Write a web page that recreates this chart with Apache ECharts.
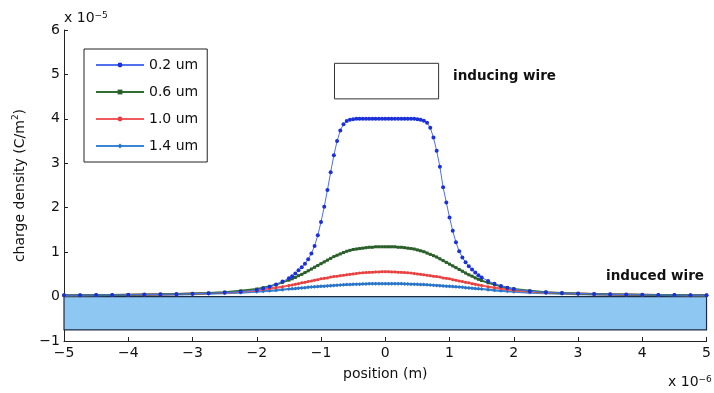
<!DOCTYPE html>
<html>
<head>
<meta charset="utf-8">
<script src="https://cdn.jsdelivr.net/npm/echarts@6/dist/echarts.min.js"></script>
<style>
html,body{margin:0;padding:0;background:#fff;}
#chart{width:714px;height:393px;}
</style>
</head>
<body>
<div id="chart"></div>
<script>
// x positions (units of 1e-6 m)
const positions = [-5,-4.75,-4.5,-4.25,-4,-3.75,-3.5,-3.25,-3,-2.75,-2.5,-2.25,
-2,-1.9,-1.8,-1.7,-1.6,
-1.5,-1.45,-1.4,-1.35,-1.3,-1.25,-1.2,-1.15,-1.1,-1.05,-1,-0.95,-0.9,-0.85,-0.8,-0.75,-0.7,-0.65,-0.6,-0.55,-0.5,-0.45,-0.4,-0.35,-0.3,-0.25,-0.2,-0.15,-0.1,-0.05,
0,0.05,0.1,0.15,0.2,0.25,0.3,0.35,0.4,0.45,0.5,0.55,0.6,0.65,0.7,0.75,0.8,0.85,0.9,0.95,1,1.05,1.1,1.15,1.2,1.25,1.3,1.35,1.4,1.45,1.5,
1.6,1.7,1.8,1.9,2,
2.25,2.5,2.75,3,3.25,3.5,3.75,4,4.25,4.5,4.75,5];

// charge density (units of 1e-5 C/m^2)
const d02 = [0.03,0.03,0.035,0.035,0.04,0.045,0.05,0.055,0.065,0.075,0.09,0.11,
0.15,0.18,0.22,0.27,0.34,
0.41,0.46,0.52,0.59,0.66,0.74,0.84,0.97,1.14,1.38,1.68,2.02,2.40,2.80,3.18,3.50,3.74,3.88,3.95,3.98,3.99,4.0,4.0,4.0,4.0,4.0,4.0,4.0,4.0,4.0,
4.0,4.0,4.0,4.0,4.0,4.0,4.0,4.0,4.0,4.0,3.99,3.98,3.96,3.91,3.80,3.58,3.28,2.92,2.46,2.12,1.78,1.48,1.22,1.02,0.88,0.77,0.68,0.61,0.54,0.48,0.43,
0.35,0.29,0.24,0.20,0.17,
0.12,0.095,0.08,0.07,0.06,0.05,0.045,0.04,0.035,0.035,0.03,0.03];

const d06 = [0.03,0.03,0.035,0.035,0.04,0.045,0.05,0.06,0.07,0.08,0.10,0.13,
0.17,0.20,0.23,0.27,0.32,
0.37,0.40,0.43,0.47,0.50,0.54,0.58,0.62,0.66,0.70,0.74,0.78,0.82,0.86,0.90,0.93,0.96,0.99,1.02,1.04,1.06,1.07,1.08,1.09,1.10,1.11,1.11,1.12,1.12,1.12,
1.12,1.12,1.12,1.12,1.11,1.11,1.10,1.09,1.08,1.07,1.05,1.03,1.01,0.98,0.95,0.92,0.89,0.85,0.81,0.77,0.73,0.69,0.65,0.61,0.57,0.53,0.49,0.46,0.42,0.39,0.36,
0.31,0.27,0.23,0.20,0.17,
0.13,0.10,0.08,0.07,0.06,0.05,0.045,0.04,0.035,0.035,0.03,0.03];

const d10 = [0.03,0.03,0.035,0.035,0.04,0.045,0.05,0.055,0.065,0.075,0.09,0.11,
0.14,0.16,0.18,0.20,0.22,
0.25,0.26,0.28,0.29,0.31,0.32,0.34,0.35,0.37,0.38,0.40,0.41,0.42,0.44,0.45,0.46,0.47,0.48,0.49,0.50,0.51,0.52,0.53,0.535,0.54,0.545,0.55,0.555,0.555,0.56,
0.56,0.56,0.555,0.555,0.55,0.545,0.54,0.535,0.53,0.52,0.51,0.50,0.49,0.48,0.47,0.46,0.45,0.44,0.42,0.41,0.40,0.38,0.37,0.35,0.34,0.32,0.31,0.29,0.28,0.26,0.25,
0.22,0.20,0.18,0.16,0.14,
0.11,0.09,0.075,0.065,0.055,0.05,0.045,0.04,0.035,0.035,0.03,0.03];

const d14 = [0.025,0.03,0.03,0.035,0.035,0.04,0.045,0.05,0.055,0.065,0.075,0.09,
0.11,0.12,0.13,0.14,0.155,
0.17,0.175,0.18,0.19,0.195,0.20,0.21,0.215,0.22,0.225,0.23,0.235,0.24,0.245,0.25,0.255,0.26,0.265,0.27,0.27,0.275,0.28,0.28,0.285,0.285,0.29,0.29,0.29,0.29,0.29,
0.29,0.29,0.29,0.29,0.29,0.29,0.285,0.285,0.28,0.28,0.275,0.27,0.27,0.265,0.26,0.255,0.25,0.245,0.24,0.235,0.23,0.225,0.22,0.215,0.21,0.20,0.195,0.19,0.18,0.175,0.17,
0.155,0.14,0.13,0.12,0.11,
0.09,0.075,0.065,0.055,0.05,0.045,0.04,0.035,0.035,0.03,0.03,0.025];

const seriesNames = ['0.2 um','0.6 um','1.0 um','1.4 um'];
const xTicks = [-5,-4,-3,-2,-1,0,1,2,3,4,5];
const yTicks = [-1,0,1,2,3,4,5,6];

// wires: [xMin, xMax, yMin, yMax] in data units
const inducedWire = [-5, 5, -0.75, 0.0];
const inducingWire = [-0.79, 0.83, 4.45, 5.25];

const FONT = '"DejaVu Sans", Verdana, sans-serif';
const pair = (ys) => positions.map((x, i) => [x, ys[i]]);

const styles = [
  {line:'#5070f0', item:'#1a30d8', symbol:'circle', size:4, width:1},
  {line:'#2f6e30', item:'#2a5e2a', symbol:'rect', size:3, width:2},
  {line:'#f05a5a', item:'#e84040', symbol:'circle', size:3, width:2.2},
  {line:'#3a86d4', item:'#2a74c8', symbol:'diamond', size:4, width:2.2}
];
const datasets = [d02, d06, d10, d14];

const chart = echarts.init(document.getElementById('chart'), null, {renderer:'canvas'});

const series = [{
  name: 'wires',
  type: 'line',
  data: [],
  silent: true,
  z: 1,
  markArea: {
    silent: true,
    data: [
      [{coord:[inducedWire[0], inducedWire[3]], itemStyle:{color:'#8ec8f2', borderColor:'#1e2a44', borderWidth:1.2}},
       {coord:[inducedWire[1], inducedWire[2]]}],
      [{coord:[inducingWire[0], inducingWire[3]], itemStyle:{color:'#ffffff', borderColor:'#333333', borderWidth:1}},
       {coord:[inducingWire[1], inducingWire[2]]}]
    ]
  }
}];

datasets.forEach((ys, k) => {
  series.push({
    name: seriesNames[k],
    type: 'line',
    data: pair(ys),
    z: 5 + (3 - k),
    showSymbol: true,
    showAllSymbol: true,
    symbol: styles[k].symbol,
    symbolSize: styles[k].size,
    lineStyle: {color: styles[k].line, width: styles[k].width},
    itemStyle: {color: styles[k].item},
    animation: false
  });
});

chart.setOption({
  animation: false,
  backgroundColor: '#ffffff',
  grid: {left: 64, right: 3, top: 30, bottom: 52, containLabel: false},
  xAxis: {
    type: 'value', min: -5, max: 5, interval: 1,
    name: 'position (m)', nameLocation: 'middle', nameGap: 26,
    nameTextStyle: {fontFamily: FONT, fontSize: 14, color: '#111'},
    axisLine: {onZero: false, lineStyle: {color: '#222', width: 1}},
    axisTick: {inside: true, length: 4, lineStyle: {color: '#222'}},
    axisLabel: {fontFamily: FONT, fontSize: 14, color: '#111', margin: 5,
      formatter: v => xTicks.includes(v) ? (v < 0 ? '\u2212' + Math.abs(v) : String(v)) : ''},
    splitLine: {show: false}
  },
  yAxis: {
    type: 'value', min: -1, max: 6, interval: 1,
    name: 'charge density (C/m{s|2})', nameLocation: 'middle', nameGap: 30,
    nameTextStyle: {fontFamily: FONT, fontSize: 14, color: '#111', lineHeight: 17,
      rich: {s: {fontFamily: FONT, fontSize: 9, color: '#111', verticalAlign: 'top', lineHeight: 17}}},
    axisLine: {show: true, onZero: false, lineStyle: {color: '#222', width: 1}},
    axisTick: {show: true, inside: true, length: 4, lineStyle: {color: '#222'}},
    axisLabel: {fontFamily: FONT, fontSize: 14, color: '#111', margin: 4,
      formatter: v => yTicks.includes(v) ? (v < 0 ? '\u2212' + Math.abs(v) : String(v)) : ''},
    splitLine: {show: false}
  },
  legend: {
    data: seriesNames,
    orient: 'vertical',
    left: 84, top: 49,
    itemWidth: 48, itemHeight: 6, itemGap: 13,
    padding: [9, 9, 9, 11],
    borderColor: '#222', borderWidth: 1, backgroundColor: '#fff',
    textStyle: {fontFamily: FONT, fontSize: 14, color: '#111'},
    selectedMode: false
  },
  graphic: [
    {type: 'text', left: 64, top: 11, z: 100,
      style: {text: 'x 10{s|\u22125}', font: '14px ' + FONT, fill: '#111',
        rich: {s: {fontSize: 9, fontFamily: FONT, fill: '#111', verticalAlign: 'top', lineHeight: 15}}}},
    {type: 'text', left: 668, top: 375, z: 100,
      style: {text: 'x 10{s|\u22126}', font: '14px ' + FONT, fill: '#111',
        rich: {s: {fontSize: 9, fontFamily: FONT, fill: '#111', verticalAlign: 'top', lineHeight: 15}}}},
    {type: 'text', left: 453, top: 69, z: 100,
      style: {text: 'inducing wire', font: 'bold 13.5px ' + FONT, fill: '#111'}},
    {type: 'text', left: 606, top: 269, z: 100,
      style: {text: 'induced wire', font: 'bold 13.5px ' + FONT, fill: '#111'}}
  ],
  series: series
});
</script>
</body>
</html>
